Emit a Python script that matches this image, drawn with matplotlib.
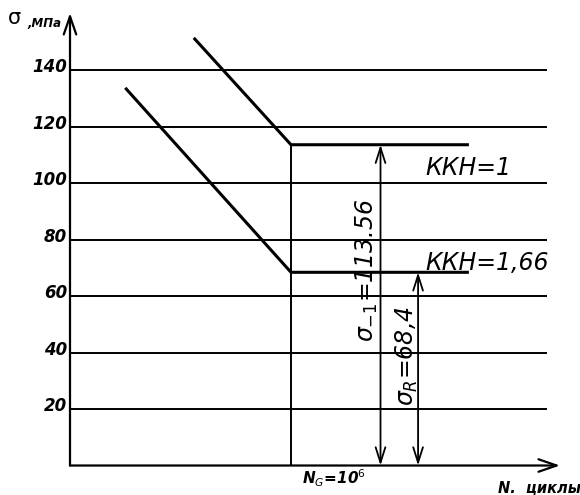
import matplotlib
matplotlib.use("Agg")
import matplotlib.pyplot as plt
from matplotlib import font_manager

# pick a narrow font if we have one
have = {f.name for f in font_manager.fontManager.ttflist}
fam = [f for f in ["Liberation Sans Narrow", "DejaVu Sans"] if f in have]
plt.rcParams['font.family'] = fam
plt.rcParams['mathtext.fontset'] = 'dejavusans'

# data (x is log10 N)
grid_levels = [20, 40, 60, 80, 100, 120, 140]
tick_labels = ["20", "40", "60", "80", "100", "120", "140"]
logN_G = 6.0
upper_x = [5.12, logN_G, 7.61]
upper_y = [151.4, 113.56, 113.56]
lower_x = [4.50, logN_G, 7.61]
lower_y = [133.7, 68.4, 68.4]
dim_x = [6.81, 7.15]
dim_y = [113.56, 68.4]

fig = plt.figure(figsize=(5.8, 4.95), dpi=100)
ax = fig.add_axes([0, 0, 1, 1])
ax.set_xlim(3.3665, 8.6154)
ax.set_ylim(-10.44, 164.8)
ax.axis('off')

# horizontal grid lines
ax.hlines(grid_levels, 4.0, 8.317, color='black', lw=1.4)

# axes with open arrows
arr = dict(arrowstyle='->,head_length=1.3,head_width=0.45', color='black', lw=1.6,
           shrinkA=0, shrinkB=0)
ax.annotate('', xy=(8.434, 0), xytext=(4.0, 0), arrowprops=arr)
ax.annotate('', xy=(4.0, 160.2), xytext=(4.0, 0), arrowprops=arr)

# fatigue curves
ax.plot(upper_x, upper_y, color='black', lw=2.2, solid_capstyle='butt')
ax.plot(lower_x, lower_y, color='black', lw=2.2, solid_capstyle='butt')
ax.vlines(logN_G, 0, upper_y[1], color='black', lw=1.4)

# dimension arrows
darr = dict(arrowstyle='<->,head_length=1.1,head_width=0.35', color='black', lw=1.3,
            shrinkA=0, shrinkB=0)
for x, y in zip(dim_x, dim_y):
    ax.annotate('', xy=(x, y), xytext=(x, 0), arrowprops=darr)

# tick labels
for v, s in zip(grid_levels, tick_labels):
    ax.text(3.973, v + 1.0, s, ha='right', va='center', fontsize=12,
            style='italic', fontweight='bold')

# labels
ax.text(7.213, upper_y[1] - 10.8, "ККН=1", fontsize=17, style='italic', va='baseline')
ax.text(7.213, lower_y[1] + 0.8, "ККН=1,66", fontsize=17, style='italic', va='baseline')
ax.text(6.69, 69.2, r"$\sigma_{-1}$=113.56", fontsize=17, style='italic',
        rotation=90, ha='center', va='center')
ax.text(7.05, 38.8, r"$\sigma_R$=68,4", fontsize=17, style='italic',
        rotation=90, ha='center', va='center')
ax.text(6.10, -4.4, r"N$_G$=10$^6$", fontsize=11, style='italic', fontweight='bold',
        ha='left', va='center')
ax.text(7.873, -8.0, "N.  циклы", fontsize=10.5, style='italic', fontweight='bold',
        ha='left', va='center')
ax.text(3.439, 158.6, "σ", fontsize=15, ha='left', va='center')
ax.text(3.611, 155.2, ",МПа", fontsize=8.5, style='italic', fontweight='bold',
        ha='left', va='baseline')

fig.savefig("out.png", dpi=100)
